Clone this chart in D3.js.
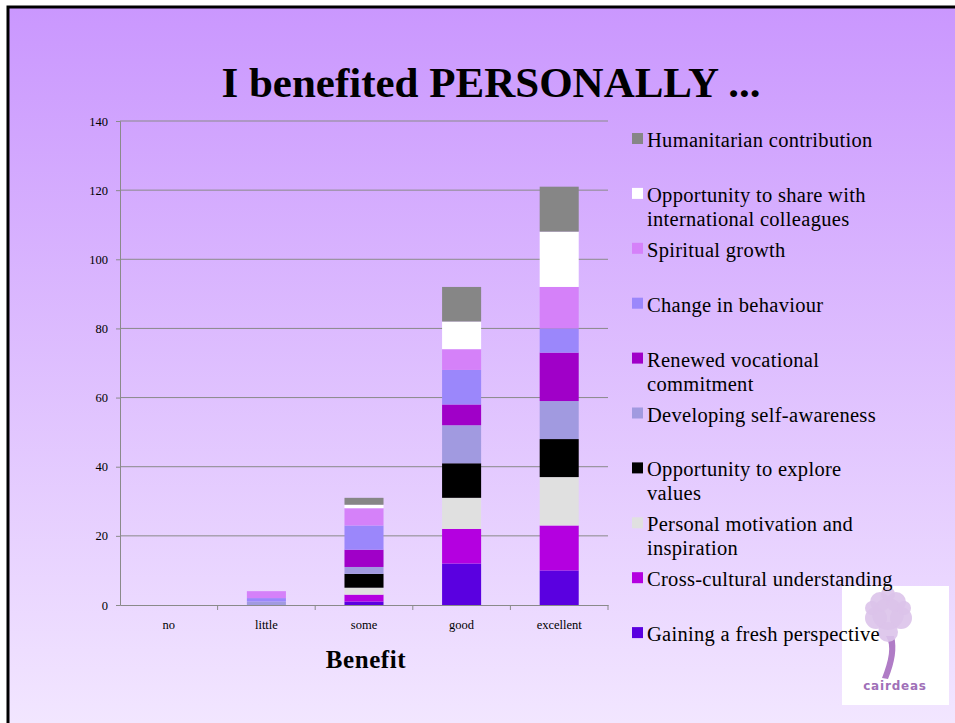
<!DOCTYPE html>
<html>
<head>
<meta charset="utf-8">
<script src="https://cdn.jsdelivr.net/npm/d3@7"></script>
<style>
  body { margin: 0; background: #fff; }
  text { font-family: "Liberation Serif", "Times New Roman", serif; }
</style>
</head>
<body>
<script>
var w = 955;
var h = 723;

// categories on the x axis
var categories = ['no', 'little', 'some', 'good', 'excellent'];

// series, bottom of the stack first
var seriesNames = [
	'Gaining a fresh perspective',
	'Cross-cultural understanding',
	'Personal motivation and inspiration',
	'Opportunity to explore values',
	'Developing self-awareness',
	'Renewed vocational commitment',
	'Change in behaviour',
	'Spiritual growth',
	'Opportunity to share with international colleagues',
	'Humanitarian contribution'
];
// legend lines (wrapped as on the slide)
var legendLines = [
	['Gaining a fresh perspective'],
	['Cross-cultural understanding'],
	['Personal motivation and', 'inspiration'],
	['Opportunity to explore', 'values'],
	['Developing self-awareness'],
	['Renewed vocational', 'commitment'],
	['Change in behaviour'],
	['Spiritual growth'],
	['Opportunity to share with', 'international colleagues'],
	['Humanitarian contribution']
];
var seriesColors = ['#5a00e0', '#b400e0', '#e0e0e0', '#000000', '#a19ae0',
	'#a000c8', '#9b87fb', '#d581f9', '#ffffff', '#868686'];

var gaining      = [0, 0, 1, 12, 10];
var crossCult    = [0, 0, 2, 10, 13];
var motivation   = [0, 0, 2, 9, 14];
var exploreVals  = [0, 0, 4, 10, 11];
var selfAware    = [0, 1, 2, 11, 11];
var vocational   = [0, 0, 5, 6, 14];
var behaviour    = [0, 1, 7, 10, 7];
var spiritual    = [0, 2, 5, 6, 12];
var shareIntl    = [0, 0, 1, 8, 16];
var humanitarian = [0, 0, 2, 10, 13];

var yTicks = [0, 20, 40, 60, 80, 100, 120, 140];

var seriesValues = [gaining, crossCult, motivation, exploreVals, selfAware,
	vocational, behaviour, spiritual, shareIntl, humanitarian];

var table = categories.map(function(c, i) {
	var row = { cat: c };
	seriesNames.forEach(function(s, j) { row[s] = seriesValues[j][i]; });
	return row;
});

var stacked = d3.stack().keys(seriesNames)(table);

var svg = d3.select('body')
	.append('svg')
	.attr('width', w)
	.attr('height', h);

// slide background
var defs = svg.append('defs');
var grad = defs.append('linearGradient')
	.attr('id', 'bg')
	.attr('x1', 0).attr('y1', 0).attr('x2', 0).attr('y2', 1);
grad.append('stop').attr('offset', '0%').attr('stop-color', '#ca97fe');
grad.append('stop').attr('offset', '100%').attr('stop-color', '#f2e6ff');

svg.append('rect')
	.attr('x', 0).attr('y', 0).attr('width', w).attr('height', h)
	.attr('fill', '#fff');
svg.append('rect')
	.attr('x', 8).attr('y', 7).attr('width', w - 8).attr('height', h - 7)
	.attr('fill', 'url(#bg)');
svg.append('path')
	.attr('d', 'M8,' + h + 'V7H' + w)
	.attr('fill', 'none')
	.attr('stroke', '#000')
	.attr('stroke-width', 3);

// title
svg.append('text')
	.attr('x', 491)
	.attr('y', 97)
	.attr('text-anchor', 'middle')
	.attr('font-size', '43px')
	.attr('font-weight', 'bold')
	.text('I benefited PERSONALLY ...');

var x = d3.scaleBand().domain(categories).range([120, 608]);
var y = d3.scaleLinear().domain([0, 140]).range([605, 121]);

// gridlines
svg.append('g')
	.selectAll('line')
	.data(yTicks.slice(1))
	.enter()
	.append('line')
	.attr('x1', 120).attr('x2', 608)
	.attr('y1', function(d) { return y(d); })
	.attr('y2', function(d) { return y(d); })
	.attr('stroke', '#8a8a8a')
	.attr('stroke-width', 1);

// bars
var barW = x.bandwidth() * 0.4;
svg.append('g')
	.selectAll('g')
	.data(stacked)
	.enter()
	.append('g')
	.attr('fill', function(d, i) { return seriesColors[i]; })
	.selectAll('rect')
	.data(function(d) { return d; })
	.enter()
	.append('rect')
	.attr('x', function(d) { return x(d.data.cat) + (x.bandwidth() - barW) / 2; })
	.attr('y', function(d) { return y(d[1]); })
	.attr('width', barW)
	.attr('height', function(d) { return y(d[0]) - y(d[1]); });

// axes
var yAxis = svg.append('g')
	.attr('transform', 'translate(120,0)')
	.call(d3.axisLeft(y).tickValues(yTicks).tickSize(4).tickPadding(8));
var xAxis = svg.append('g')
	.attr('transform', 'translate(0,605)')
	.call(d3.axisBottom(x).tickSize(0).tickPadding(15));

[yAxis, xAxis].forEach(function(a) {
	a.select('.domain').attr('stroke', '#8a8a8a');
	a.selectAll('.tick line').attr('stroke', '#8a8a8a');
	a.selectAll('text')
		.attr('font-family', '"Liberation Serif", serif')
		.attr('font-size', '12.5px')
		.attr('fill', '#000');
});

// x tick marks on the band edges
svg.append('g')
	.selectAll('line')
	.data(categories)
	.enter()
	.append('line')
	.attr('x1', function(d) { return x(d) + x.bandwidth(); })
	.attr('x2', function(d) { return x(d) + x.bandwidth(); })
	.attr('y1', 605).attr('y2', 610)
	.attr('stroke', '#8a8a8a');

svg.append('text')
	.attr('x', 366)
	.attr('y', 668)
	.attr('text-anchor', 'middle')
	.attr('font-size', '25px')
	.attr('letter-spacing', '0.6px')
	.attr('font-weight', 'bold')
	.text('Benefit');

// logo
var logo = svg.append('g').attr('transform', 'translate(842,586)');
logo.append('rect')
	.attr('width', 107).attr('height', 119)
	.attr('fill', '#ffffff');
logo.append('path')
	.attr('d', 'M44,50 C50,60 47,74 40,92 L46,93 C53,76 55,62 52,50 Z')
	.attr('fill', '#b07cc6');
var leaves = [[46, 28, 16], [34, 32, 11], [59, 32, 11], [46, 46, 10], [38, 16, 10], [54, 16, 10], [46, 8, 7], [30, 22, 7], [62, 22, 7]];
logo.selectAll('circle')
	.data(leaves)
	.enter()
	.append('circle')
	.attr('cx', function(d) { return d[0]; })
	.attr('cy', function(d) { return d[1]; })
	.attr('r', function(d) { return d[2]; })
	.attr('fill', '#dcc3ea')
	.attr('opacity', 0.9);
logo.append('text')
	.attr('x', 53).attr('y', 104)
	.attr('text-anchor', 'middle')
	.style('font-family', '"DejaVu Sans", sans-serif')
	.attr('font-size', '12px')
	.attr('letter-spacing', '0.8px')
	.attr('font-weight', 'bold')
	.attr('fill', '#a070b8')
	.text('cairdeas');

// legend, top entry first
var legend = svg.append('g');
var entries = legend.selectAll('g')
	.data(d3.range(seriesNames.length).reverse())
	.enter()
	.append('g')
	.attr('transform', function(d, i) { return 'translate(632,' + (140 + i * 54.9) + ')'; });
entries.append('rect')
	.attr('x', 0).attr('y', -7)
	.attr('width', 11).attr('height', 11)
	.attr('fill', function(d) { return seriesColors[d]; });
entries.each(function(d) {
	var t = d3.select(this).append('text')
		.attr('x', 15)
		.attr('y', 7)
		.attr('font-size', '20.5px')
		.attr('letter-spacing', '0.3px');
	legendLines[d].forEach(function(line, k) {
		t.append('tspan').attr('x', 15).attr('dy', k === 0 ? 0 : 24).text(line);
	});
});
</script>
</body>
</html>
